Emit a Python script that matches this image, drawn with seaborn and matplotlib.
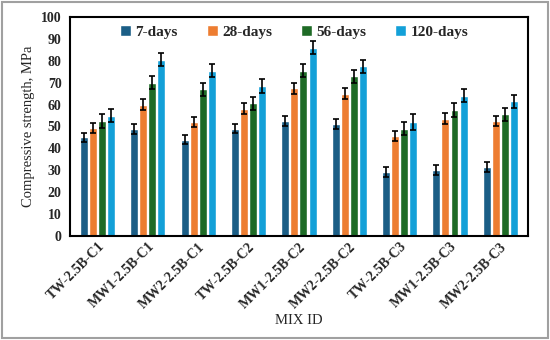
import pandas as pd
import matplotlib
matplotlib.use("Agg")
import matplotlib.pyplot as plt
import seaborn as sns
from matplotlib.patches import Rectangle

mixes = ["TW-2.5B-C1", "MW1-2.5B-C1", "MW2-2.5B-C1",
         "TW-2.5B-C2", "MW1-2.5B-C2", "MW2-2.5B-C2",
         "TW-2.5B-C3", "MW1-2.5B-C3", "MW2-2.5B-C3"]
ages = ["7-days", "28-days", "56-days", "120-days"]
d7 = [45, 49, 44, 49, 52.5, 51, 29, 30, 31.5]
d28 = [49.5, 60, 52, 58, 67.5, 65, 45.5, 53.5, 52.5]
d56 = [52.5, 70, 67, 60.5, 75.5, 73, 49, 57.5, 55.5]
d120 = [55, 80.5, 75.5, 68.5, 86, 77.5, 52, 64, 61.5]
err7 = [2.2, 2.3, 2.2, 2.2, 2.3, 2.3, 2.3, 2.3, 2.3]
err28 = [2.3, 2.5, 2.3, 2.5, 2.5, 2.5, 2.3, 2.5, 2.3]
err56 = [3.0, 3.0, 3.0, 3.0, 3.0, 3.0, 3.0, 3.0, 3.0]
err120 = [3.0, 3.0, 3.0, 3.0, 3.0, 3.0, 3.5, 3.0, 3.0]
colors = ["#1b5e86", "#ed7d31", "#1e6b26", "#13a0d8"]

vals = [d7, d28, d56, d120]
errs = [err7, err28, err56, err120]
rows = []
for a, v, e in zip(ages, vals, errs):
    for m, vv, ee in zip(mixes, v, e):
        rows.append({"mix": m, "age": a, "value": vv, "err": ee})
df = pd.DataFrame(rows)

sns.set_style("white")
plt.rcParams["font.family"] = ["Liberation Serif", "DejaVu Serif"]

fig = plt.figure(figsize=(5.5, 3.4), dpi=100)
ax = fig.add_axes([0.127, 0.306, 0.833, 0.644])
sns.barplot(data=df, x="mix", y="value", hue="age", order=mixes, hue_order=ages,
            palette=colors, width=0.72, gap=0.12, errorbar=None, ax=ax, saturation=1)

for cont, a in zip(ax.containers, ages):
    sub = df[df["age"] == a].set_index("mix").loc[mixes]
    xs = [p.get_x() + p.get_width() / 2 for p in cont]
    ax.errorbar(xs, sub["value"], yerr=sub["err"], fmt="none", ecolor="black",
                elinewidth=1.2, capsize=2.5, capthick=1.2)

ax.set_ylim(0, 100)
ax.set_yticks(range(0, 101, 10))
ax.set_xlim(-0.55, 8.55)
ax.tick_params(axis="y", labelsize=10, length=0, pad=6)
ax.tick_params(axis="x", labelsize=10, length=0, pad=3)
for t in ax.get_yticklabels():
    t.set_fontweight("bold")
plt.setp(ax.get_xticklabels(), rotation=45, ha="right", rotation_mode="anchor", fontweight="bold")
for s in ax.spines.values():
    s.set_color("black")
    s.set_linewidth(1.5)
ax.set_xlabel("MIX ID", fontsize=10.5, labelpad=2)
ax.set_ylabel("Compressive strength, MPa", fontsize=10.5, labelpad=4)

leg = ax.legend(loc="upper center", bbox_to_anchor=(0.49, 1.025), ncol=4, frameon=False,
                prop={"weight": "bold", "size": 11}, handlelength=0.7, handleheight=0.7,
                handletextpad=0.3, columnspacing=1.9)

fig.patches.append(Rectangle((0.004, 0.006), 0.992, 0.988, transform=fig.transFigure,
                             fill=False, edgecolor="#a0a0a0", linewidth=1.5))
fig.savefig("out.png", dpi=100)
